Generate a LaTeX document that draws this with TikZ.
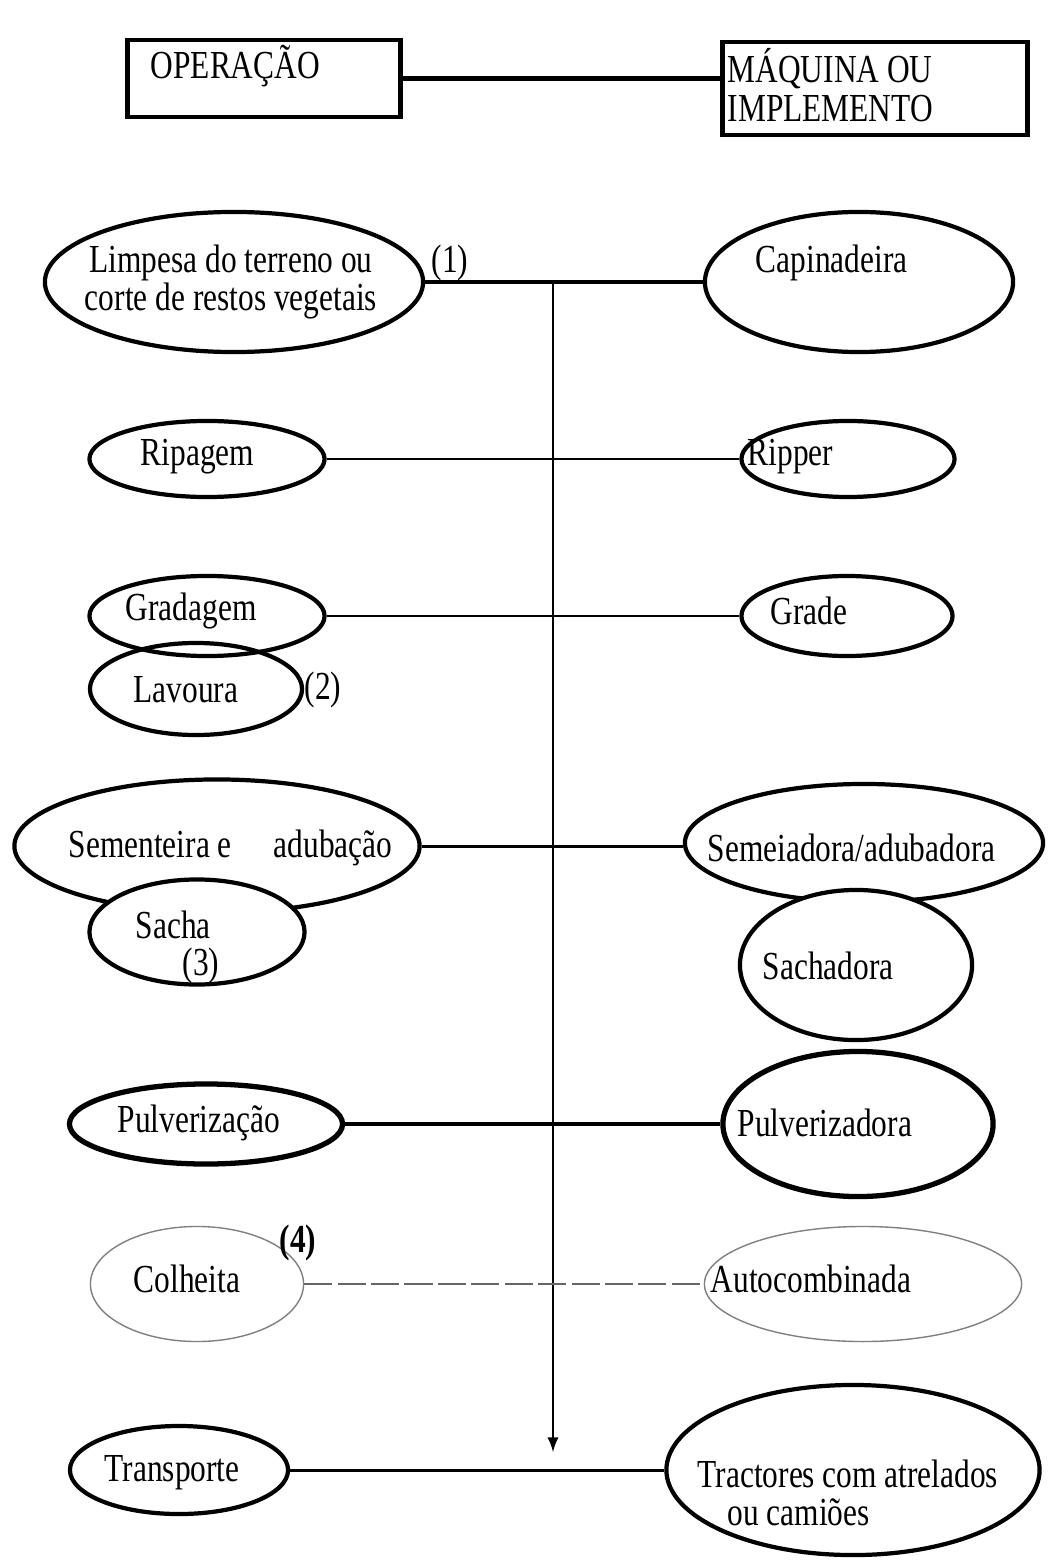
\documentclass[tikz,border=0pt]{standalone}
\usepackage{fontspec}
\setmainfont{Liberation Serif}[FakeStretch=0.79]
\usetikzlibrary{shapes.geometric}

\begin{document}
\begin{tikzpicture}[x=0.01cm, y=-0.01cm,
    box/.style={draw, line width=1.4pt, inner sep=0pt},
    oval/.style={draw, ellipse, line width=1.2pt, inner sep=0pt},
    paleoval/.style={draw=gray, ellipse, line width=0.4pt, inner sep=0pt},
    txt/.style={anchor=west, inner sep=0pt, font=\fontsize{11.3}{10.9}\selectfont, align=left},
    link/.style={line width=0.85pt},
    boldlink/.style={line width=1.4pt}]
\useasboundingbox (0,0) rectangle (1047,1561);

            % heading
            \node[box, minimum width=2.72cm, minimum height=0.77cm] (op) at (264,78.5) {};
            \node[box, minimum width=3.04cm, minimum height=0.93cm] (maq) at (875,88.5) {};
            \node[txt] (opT) at (150,66) {OPERAÇÃO};
            \node[txt] (maqT) at (727,85) {MÁQUINA OU\\IMPLEMENTO};
            \draw[boldlink] (op.east) -- (maq.west |- op.east);

            % limpeza
            \node[oval, minimum width=3.78cm, minimum height=1.40cm] (limp) at (234,282) {};
            \node[oval, minimum width=3.08cm, minimum height=1.40cm] (capin) at (859,282) {};
            \node[txt, anchor=center, align=center] (limpT) at (231,282) {Limpesa do terreno ou\\corte de restos vegetais};
            \node[txt] (capinT) at (755,263) {Capinadeira};
            \node[txt, anchor=center] (n1) at (450,263) {(1)};
            \draw[boldlink] (limp) -- (capin);
            \coordinate (vtop) at (553,282);
            \coordinate (vbot) at (553,1452);
            \draw[line width=0.45pt, -latex] (vtop) -- (vbot);

            % ripagem
            \node[oval, minimum width=2.35cm, minimum height=0.76cm] (rip) at (207,459) {};
            \node[oval, minimum width=2.13cm, minimum height=0.76cm] (ripper) at (848,459) {};
            \node[txt] (ripT) at (140,457) {Ripagem};
            \node[txt] (ripperT) at (747,457) {Ripper};
            \draw[link] (rip) -- (ripper);

            % gradagem e lavoura
            \node[oval, minimum width=2.35cm, minimum height=0.80cm] (grad) at (207,616) {};
            \node[oval, minimum width=2.11cm, minimum height=0.80cm] (grade) at (847,616) {};
            \node[txt] (gradT) at (125,611) {Gradagem};
            \node[txt] (gradeT) at (770,611) {Grade};
            \draw[link] (grad) -- (grade);
            \node[oval, minimum width=2.12cm, minimum height=0.92cm] (lav) at (196,689) {};
            \node[txt] (lavT) at (133,690) {Lavoura};
            \node[txt] (n2) at (304,690) {(2)};

            % sementeira e sacha
            \node[oval, minimum width=4.05cm, minimum height=1.33cm] (sem) at (217,846) {};
            \node[oval, minimum width=3.58cm, minimum height=1.18cm] (semei) at (864,843) {};
            \node[txt] (semT) at (68,848) {Sementeira e\hspace{0.42cm}adubação};
            \node[txt] (semeiT) at (707,848) {Semeiadora/adubadora};
            \draw[link] (sem) -- (semei.west |- sem.east);
            \node[oval, fill=white, minimum width=2.15cm, minimum height=1.05cm] (sacha) at (197,932) {};
            \node[oval, fill=white, minimum width=2.32cm, minimum height=1.50cm] (sachad) at (856,965) {};
            \node[txt] (sachaT) at (135,925) {Sacha};
            \node[txt, anchor=center] (n3) at (201,966) {(3)};
            \node[txt] (sachadT) at (762,966) {Sachadora};

            % pulverizacao
            \node[oval, line width=1.5pt, minimum width=2.73cm, minimum height=0.80cm] (pulv) at (206,1124) {};
            \node[oval, line width=1.5pt, minimum width=2.70cm, minimum height=1.45cm] (pulvz) at (858,1124) {};
            \node[txt] (pulvT) at (117,1123) {Pulverização};
            \node[txt] (pulvzT) at (737,1123) {Pulverizadora};
            \draw[line width=1.1pt] (pulv) -- (pulvz);

            % colheita
            \node[paleoval, minimum width=2.13cm, minimum height=1.15cm] (colh) at (197,1284) {};
            \node[paleoval, minimum width=3.17cm, minimum height=1.15cm] (autoc) at (863,1284) {};
            \node[txt] (colhT) at (133,1279) {Colheita};
            \node[txt] (autocT) at (710,1279) {Autocombinada};
            \node[txt, anchor=center, font=\fontsize{11.3}{11}\selectfont\bfseries] (n4) at (298,1243) {(4)};
            \draw[draw=black!60, line width=0.7pt, dash pattern=on 8pt off 1.5pt] (colh) -- (autoc);

            % transporte
            \node[oval, minimum width=2.18cm, minimum height=0.88cm] (transp) at (179,1470) {};
            \node[oval, minimum width=3.73cm, minimum height=1.70cm] (tract) at (853,1470) {};
            \node[txt] (transpT) at (104,1473) {Transporte};
            \node[txt] (tractT) at (697,1493) {Tractores com atrelados\\\hspace*{0.3cm}ou camiões};
            \draw[link] (transp) -- (tract);
        \end{tikzpicture}
\end{document}
